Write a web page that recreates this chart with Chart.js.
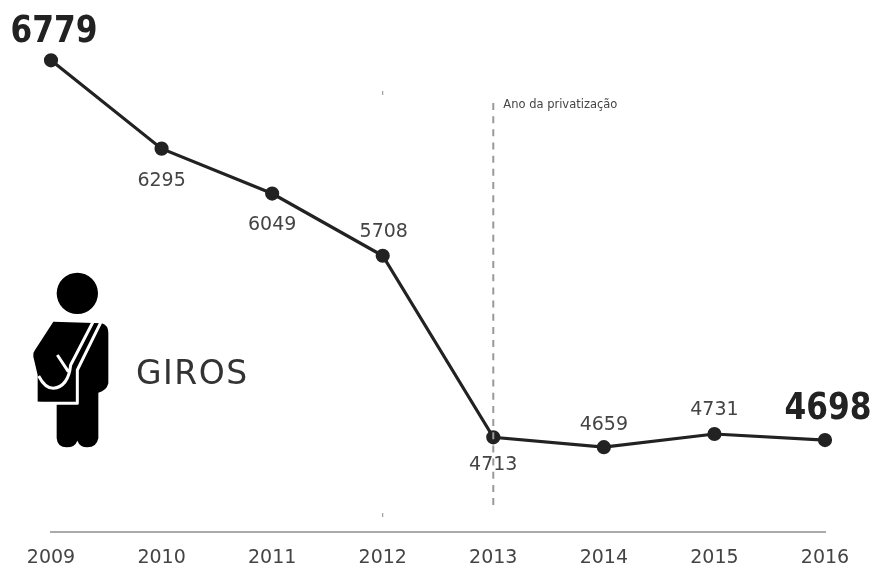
<!DOCTYPE html>
<html>
<head>
<meta charset="utf-8">
<title>Giros</title>
<script src="https://cdn.jsdelivr.net/npm/chart.js@4"></script>
<style>
  html, body { margin: 0; padding: 0; background: #fff; }
  #wrap { position: relative; width: 875px; height: 567px; }
</style>
</head>
<body>
<div id="wrap"><canvas id="giros-chart"></canvas></div>
<script>
const years = ["2009", "2010", "2011", "2012", "2013", "2014", "2015", "2016"];
const giros = [6779, 6295, 6049, 5708, 4713, 4659, 4731, 4698];
// offset of each value label from its point, and whether it is one of the big ones
const labelDx = [3, 0, 0, 1, 0, 0, 0, 3];
const labelDy = [-28, 32, 32, -24, 28, -22, -24, -31];
const labelBig = [true, false, false, false, false, false, false, true];
const privatizationYear = "2013";
const privatizationText = "Ano da privatização";
const seriesTitle = "GIROS";

// person with a satchel, drawn on a grid three times the canvas size
const personBody = new Path2D(
    "M232 68a62 62 0 1 1 0 124a62 62 0 1 1 0 -124z" +
    "M160 215L305 220Q325 225 325 250L325 400Q320 422 295 428L295 565" +
    "Q290 592 262 592Q240 592 232 572Q225 592 200 592Q172 592 170 565L170 458" +
    "L113 455L113 375L100 320Q97 310 105 300z"
);
const personStraps = new Path2D(
    "M282 210L212 345Q205 410 160 415Q135 415 116 378" +
    "M172 315L205 365" +
    "M302 218L232 360L232 460L110 460"
);

// draws the value labels, the marker line and the figure with its title
const decorations = {
    id: "decorations",
    afterDatasetsDraw(chart) {
        const ctx = chart.ctx;
        const xScale = chart.scales.x;
        const yScale = chart.scales.y;

        ctx.save();

        // dashed line on the privatization year
        const markX = xScale.getPixelForValue(years.indexOf(privatizationYear));
        ctx.strokeStyle = "#999";
        ctx.lineWidth = 2;
        ctx.setLineDash([7, 6.17]);
        ctx.beginPath();
        ctx.moveTo(markX, 103);
        ctx.lineTo(markX, 505);
        ctx.stroke();
        ctx.setLineDash([]);

        ctx.fillStyle = "#444";
        ctx.font = "11.5px 'DejaVu Sans'";
        ctx.textAlign = "left";
        ctx.textBaseline = "middle";
        ctx.fillText(privatizationText, markX + 10, 105);

        // tiny ticks over 2012
        const tickX = xScale.getPixelForValue(3);
        ctx.strokeStyle = "#888";
        ctx.lineWidth = 1;
        [[91, 95], [513, 517]].forEach(function(seg) {
            ctx.beginPath();
            ctx.moveTo(tickX, seg[0]);
            ctx.lineTo(tickX, seg[1]);
            ctx.stroke();
        });

        // value labels, the big ones squeezed sideways
        ctx.textAlign = "center";
        giros.forEach(function(value, i) {
            const x = xScale.getPixelForValue(i) + labelDx[i];
            const y = yScale.getPixelForValue(value) + labelDy[i];
            if (labelBig[i]) {
                ctx.save();
                ctx.translate(x, y);
                ctx.scale(0.845, 1);
                ctx.font = "bold 37px 'DejaVu Sans'";
                ctx.fillStyle = "#222";
                ctx.fillText(String(value), 0, 0);
                ctx.restore();
            } else {
                ctx.font = "19px 'DejaVu Sans'";
                ctx.fillStyle = "#444";
                ctx.fillText(String(value), x, y);
            }
        });

        // figure and title
        ctx.save();
        ctx.translate(0, 250);
        ctx.scale(1 / 3, 1 / 3);
        ctx.fillStyle = "#000";
        ctx.fill(personBody);
        ctx.strokeStyle = "#fff";
        ctx.lineWidth = 9;
        ctx.lineJoin = "round";
        ctx.stroke(personStraps);
        ctx.restore();

        ctx.fillStyle = "#333";
        ctx.font = "33px 'DejaVu Sans'";
        ctx.letterSpacing = "1.5px";
        ctx.textAlign = "left";
        ctx.fillText(seriesTitle, 136, 375);
        ctx.letterSpacing = "0px";

        ctx.restore();
    }
};

new Chart(document.getElementById("giros-chart"), {
    type: "line",
    data: {
        labels: years,
        datasets: [{
            data: giros,
            borderColor: "#222",
            backgroundColor: "#222",
            borderWidth: 3.2,
            tension: 0,
            pointRadius: 5.5,
            pointHoverRadius: 5.5
        }]
    },
    plugins: [decorations],
    options: {
        responsive: true,
        maintainAspectRatio: false,
        animation: false,
        layout: { padding: { left: 51, right: 50, top: 20, bottom: 0 } },
        plugins: { legend: { display: false }, tooltip: { enabled: false } },
        scales: {
            x: {
                offset: false,
                afterFit(scale) { scale.height = 35; },
                grid: { display: false, drawTicks: false },
                border: { display: true, color: "#aaa", width: 2 },
                ticks: {
                    color: "#444",
                    padding: 15,
                    maxRotation: 0,
                    font: { family: "'DejaVu Sans'", size: 19 }
                }
            },
            y: {
                display: false,
                min: 4194,
                max: 7000
            }
        }
    }
});
</script>
</body>
</html>
